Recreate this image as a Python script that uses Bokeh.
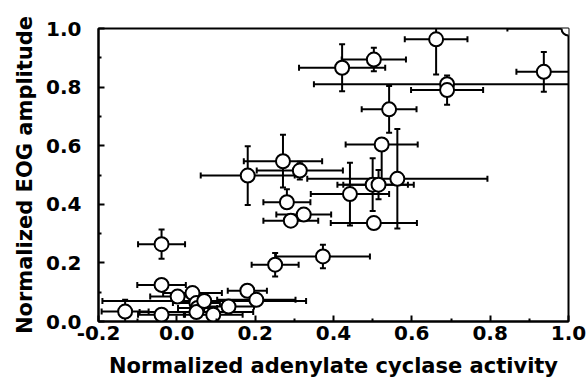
from bokeh.plotting import figure
from bokeh.models import ColumnDataSource, Whisker, TeeHead, Range1d, FixedTicker, PrintfTickFormatter
from bokeh.embed import file_html
from bokeh.resources import INLINE

# Data
adenylate = [1.00, 0.662, 0.503, 0.422, 0.937, 0.69, 0.69, 0.542, 0.523, 0.563, 0.50, 0.515,
             0.442, 0.503, 0.271, 0.181, 0.314, 0.281, 0.324, 0.291, 0.251, 0.373, -0.039,
             -0.039, 0.002, 0.04, -0.132, -0.039, 0.05, 0.053, 0.05, 0.07, 0.093, 0.132, 0.18, 0.203]
eog = [1.00, 0.963, 0.894, 0.866, 0.852, 0.81, 0.79, 0.724, 0.604, 0.487, 0.467, 0.467,
       0.435, 0.336, 0.547, 0.498, 0.515, 0.407, 0.365, 0.344, 0.194, 0.222, 0.264,
       0.125, 0.085, 0.097, 0.034, 0.023, 0.063, 0.046, 0.032, 0.07, 0.023, 0.051, 0.105, 0.074]
adenylate_err = [0.156, 0.08, 0.082, 0.11, 0.07, 0.34, 0.092, 0.07, 0.092, 0.23, 0.09, 0.09,
                 0.10, 0.11, 0.10, 0.12, 0.11, 0.06, 0.07, 0.07, 0.06, 0.12, 0.06,
                 0.062, 0.07, 0.075, 0.06, 0.06, 0.06, 0.05, 0.145, 0.26, 0.075, 0.065, 0.05, 0.10]
eog_err_low = [0.0, 0.12, 0.04, 0.08, 0.068, 0.02, 0.05, 0.08, 0.13, 0.17, 0.09, 0.05,
               0.107, 0.0, 0.09, 0.10, 0.03, 0.0, 0.02, 0.02, 0.04, 0.04, 0.05,
               0.0, 0.0, 0.0, 0.04, 0.0, 0.01, 0.01, 0.02, 0.01, 0.0, 0.0, 0.0, 0.0]
eog_err_high = [0.0, 0.12, 0.04, 0.08, 0.068, 0.02, 0.05, 0.08, 0.0, 0.17, 0.09, 0.05,
                0.107, 0.02, 0.09, 0.10, 0.03, 0.044, 0.02, 0.02, 0.04, 0.04, 0.05,
                0.0, 0.0, 0.0, 0.04, 0.0, 0.01, 0.01, 0.02, 0.01, 0.0, 0.0, 0.0, 0.0]

x_ticks = [-0.2, 0.0, 0.2, 0.4, 0.6, 0.8, 1.0]
x_minor = [-0.1, 0.1, 0.3, 0.5, 0.7, 0.9]
y_ticks = [0.0, 0.2, 0.4, 0.6, 0.8, 1.0]
y_minor = [0.1, 0.3, 0.5, 0.7, 0.9]

src = ColumnDataSource(dict(
    x=adenylate, y=eog,
    xl=[a - e for a, e in zip(adenylate, adenylate_err)],
    xu=[a + e for a, e in zip(adenylate, adenylate_err)],
    yl=[a - e for a, e in zip(eog, eog_err_low)],
    yu=[a + e for a, e in zip(eog, eog_err_high)],
))

p = figure(width=586, height=380, output_backend="svg", toolbar_location=None,
           x_range=Range1d(-0.2, 1.0), y_range=Range1d(0.0, 1.0),
           min_border_left=98, min_border_right=18, min_border_top=28, min_border_bottom=10)
p.grid.visible = False
p.outline_line_color = "black"
p.outline_line_width = 2
p.background_fill_color = "white"
p.border_fill_color = "white"

FONT = "DejaVu Sans"
for ax in (p.xaxis[0], p.yaxis[0]):
    ax.axis_line_width = 2
    ax.axis_line_color = "black"
    ax.major_tick_in = 6
    ax.major_tick_out = 0
    ax.minor_tick_in = 3
    ax.minor_tick_out = 0
    ax.major_tick_line_width = 2
    ax.minor_tick_line_width = 2
    ax.major_label_text_font = FONT
    ax.major_label_text_font_style = "bold"
    ax.major_label_text_font_size = "20px"
    ax.major_label_text_color = "black"
    ax.axis_label_text_font = FONT
    ax.axis_label_text_font_style = "bold"
    ax.axis_label_text_font_size = "21px"
    ax.axis_label_text_color = "black"
    ax.formatter = PrintfTickFormatter(format="%.1f")

p.xaxis[0].ticker = FixedTicker(ticks=x_ticks, minor_ticks=x_minor)
p.yaxis[0].ticker = FixedTicker(ticks=y_ticks, minor_ticks=y_minor)
p.xaxis[0].axis_label = "Normalized adenylate cyclase activity"
p.yaxis[0].axis_label = "Normalized EOG amplitude"
p.xaxis[0].major_label_standoff = 4
p.xaxis[0].axis_label_standoff = 11
p.yaxis[0].major_label_standoff = 17
p.yaxis[0].axis_label_standoff = 6

xw = Whisker(source=src, base="y", lower="xl", upper="xu", dimension="width",
             line_color="black", line_width=2,
             lower_head=TeeHead(size=6, line_width=2, line_color="black"),
             upper_head=TeeHead(size=6, line_width=2, line_color="black"))
yw = Whisker(source=src, base="x", lower="yl", upper="yu", dimension="height",
             line_color="black", line_width=2,
             lower_head=TeeHead(size=6, line_width=2, line_color="black"),
             upper_head=TeeHead(size=6, line_width=2, line_color="black"))
p.add_layout(xw)
p.add_layout(yw)

p.scatter("x", "y", source=src, marker="circle", size=14, fill_color="white",
          line_color="black", line_width=2)

open("out.html", "w").write(file_html(p, INLINE))
